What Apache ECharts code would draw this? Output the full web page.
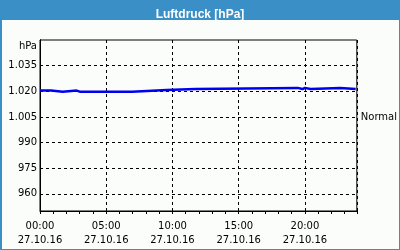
<!DOCTYPE html>
<html><head><meta charset="utf-8">
<script src="https://cdn.jsdelivr.net/npm/echarts@6/dist/echarts.min.js"></script>
<style>html,body{margin:0;padding:0;background:#fbfdfb}#c{width:400px;height:250px}</style>
</head><body><div id="c"></div>
<script>
const titleText = 'Luftdruck [hPa]';
const unitLabel = 'hPa';
const dateLabel = '27.10.16';
// minutes since 00:00 on 27.10.16
const timesMin = [0, 50, 103, 166, 180, 188, 417, 574, 704, 1167, 1189, 1200, 1225, 1360, 1430];
const pressure = [1020.4, 1019.8, 1020.4, 1019.8, 1020.4, 1019.8, 1020.7, 1021.3, 1022.0, 1021.3, 1022.0, 1021.3, 1022.0, 1021.3, 1021.3];
const yTicks = [960, 975, 990, 1005, 1020, 1035];
const xLabelTicks = [0, 300, 600, 900, 1200];
const normalValue = [1005];
const normalLabel = 'Normal';

const FONT = 'DejaVu Sans';
function fmtY(v) {
  const s = String(Math.round(v));
  return s.length > 3 ? s.slice(0, s.length - 3) + '.' + s.slice(-3) : s;
}
function fmtX(v) {
  const h = Math.floor(v / 60), m = Math.round(v % 60);
  return String(h).padStart(2, '0') + ':' + String(m).padStart(2, '0') + '\n' + dateLabel;
}
const dashed = { show: true, lineStyle: { color: '#000', width: 1, type: [3, 3] } };

const chart = echarts.init(document.getElementById('c'), null, { renderer: 'canvas' });
chart.setOption({
  animation: false,
  backgroundColor: '#fbfdfb',
  title: {
    text: titleText, left: 'center', top: 3,
    textStyle: { color: '#fff', fontFamily: 'Liberation Sans', fontWeight: 'bold', fontSize: 12, lineHeight: 14 }
  },
  graphic: [
    { type: 'rect', shape: { x: 0, y: 0, width: 400, height: 20 }, style: { fill: '#3a8fc6' }, z: -1 },
    { type: 'rect', shape: { x: 0, y: 0, width: 2, height: 250 }, style: { fill: '#3a8fc6' } },
    { type: 'rect', shape: { x: 399, y: 0, width: 1, height: 250 }, style: { fill: '#3a8fc6' } },
    { type: 'rect', shape: { x: 0, y: 249, width: 400, height: 1 }, style: { fill: '#3a8fc6' } },
    { type: 'text', x: 37, y: 46, style: { text: unitLabel, fill: '#000', font: '10px "DejaVu Sans"', textAlign: 'right', textVerticalAlign: 'middle' } }
  ],
  grid: { left: 40, right: 40, top: 40, bottom: 39, show: true, borderColor: '#000', borderWidth: 1, backgroundColor: 'transparent' },
  xAxis: [
    {
      type: 'value', min: 0, max: 1435, interval: 60, position: 'bottom',
      axisLine: { show: true, lineStyle: { color: '#000', width: 1 } },
      axisTick: { show: true, length: 3, lineStyle: { color: '#000' } },
      axisLabel: { customValues: xLabelTicks, formatter: fmtX, color: '#000', fontFamily: FONT, fontSize: 10, lineHeight: 14, margin: 8 },
      splitLine: { show: false }
    },
    {
      type: 'value', min: 0, max: 1435, interval: 300, position: 'bottom',
      axisLine: { show: false }, axisTick: { show: false }, axisLabel: { show: false },
      splitLine: dashed
    }
  ],
  yAxis: [
    {
      type: 'value', min: 950, max: 1050, position: 'left',
      axisLine: { show: true, lineStyle: { color: '#000', width: 1 } },
      axisTick: { show: false, customValues: yTicks },
      axisLabel: { customValues: yTicks, formatter: fmtY, color: '#000', fontFamily: FONT, fontSize: 10, margin: 3 },
      splitLine: dashed
    },
    {
      type: 'value', min: 950, max: 1050, position: 'right',
      axisLine: { show: true, lineStyle: { color: '#000', width: 1 } },
      axisTick: { show: true, length: 3, customValues: normalValue, lineStyle: { color: '#000' } },
      axisLabel: { customValues: normalValue, formatter: () => normalLabel, color: '#000', fontFamily: FONT, fontSize: 10, margin: 4 },
      splitLine: { show: false }
    }
  ],
  series: [{
    type: 'line', xAxisIndex: 0, yAxisIndex: 0, step: 'end', showSymbol: false,
    lineStyle: { color: '#0000f0', width: 2.5 },
    data: timesMin.map((t, i) => [t, pressure[i]])
  }]
});
</script></body></html>
